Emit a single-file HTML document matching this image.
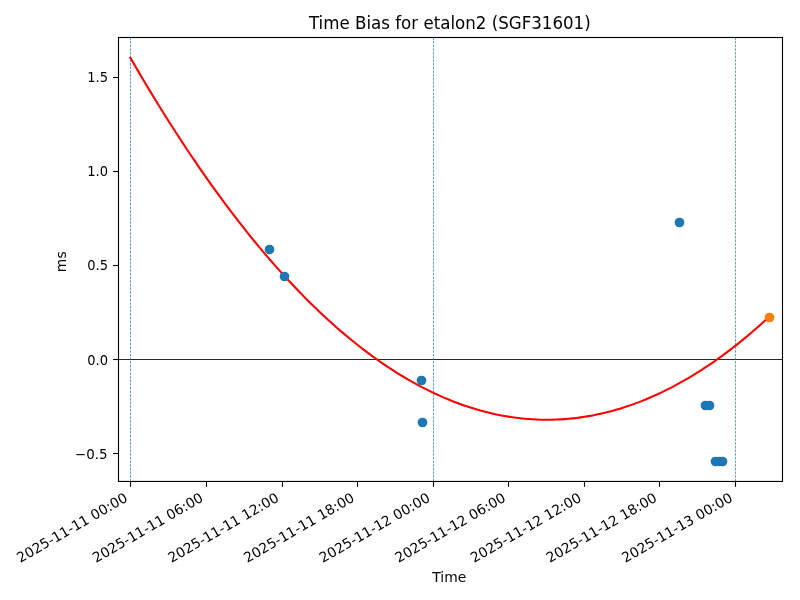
<!DOCTYPE html>
<html lang="en"><head><meta charset="utf-8"><title>Time Bias for etalon2 (SGF31601)</title>
<style>html,body{margin:0;padding:0;background:#fff;overflow:hidden}svg{display:block}text{font-family:'DejaVu Sans','Liberation Sans',sans-serif;fill:#000}</style></head><body>
<svg width="800" height="600" viewBox="0 0 800 600">
<rect x="0" y="0" width="800" height="600" fill="#ffffff"/>
<g stroke="#000" stroke-width="1.111">
<line x1="130.50" y1="481.45" x2="130.50" y2="486.80"/>
<line x1="206.50" y1="481.45" x2="206.50" y2="486.80"/>
<line x1="282.50" y1="481.45" x2="282.50" y2="486.80"/>
<line x1="357.50" y1="481.45" x2="357.50" y2="486.80"/>
<line x1="433.50" y1="481.45" x2="433.50" y2="486.80"/>
<line x1="508.50" y1="481.45" x2="508.50" y2="486.80"/>
<line x1="584.50" y1="481.45" x2="584.50" y2="486.80"/>
<line x1="659.50" y1="481.45" x2="659.50" y2="486.80"/>
<line x1="735.50" y1="481.45" x2="735.50" y2="486.80"/>
</g>
<g font-size="13.889">
<text transform="translate(20.37 563.04) rotate(-30)">2025-11-11 00:00</text>
<text transform="translate(95.99 563.04) rotate(-30)">2025-11-11 06:00</text>
<text transform="translate(171.62 563.04) rotate(-30)">2025-11-11 12:00</text>
<text transform="translate(247.24 563.04) rotate(-30)">2025-11-11 18:00</text>
<text transform="translate(322.87 563.04) rotate(-30)">2025-11-12 00:00</text>
<text transform="translate(398.49 563.04) rotate(-30)">2025-11-12 06:00</text>
<text transform="translate(474.12 563.04) rotate(-30)">2025-11-12 12:00</text>
<text transform="translate(549.74 563.04) rotate(-30)">2025-11-12 18:00</text>
<text transform="translate(625.37 563.04) rotate(-30)">2025-11-13 00:00</text>
</g>
<text x="449.25" y="582.35" font-size="13.889" text-anchor="middle">Time</text>
<g stroke="#000" stroke-width="1.111">
<line x1="113.10" y1="453.50" x2="118.50" y2="453.50"/>
<line x1="113.10" y1="359.50" x2="118.50" y2="359.50"/>
<line x1="113.10" y1="265.50" x2="118.50" y2="265.50"/>
<line x1="113.10" y1="171.50" x2="118.50" y2="171.50"/>
<line x1="113.10" y1="77.50" x2="118.50" y2="77.50"/>
</g>
<g font-size="13.889" text-anchor="end">
<text transform="translate(107.58 458.88) scale(0.965 1)">−0.5</text>
<text transform="translate(107.98 364.88) scale(0.940 1)">0.0</text>
<text transform="translate(107.98 269.88) scale(0.940 1)">0.5</text>
<text transform="translate(107.98 175.88) scale(0.940 1)">1.0</text>
<text transform="translate(107.98 81.88) scale(0.940 1)">1.5</text>
</g>
<text transform="translate(65.61 261.75) rotate(-90)" font-size="13.889" text-anchor="middle">ms</text>
<clipPath id="ax"><rect x="118.50" y="37.50" width="664.00" height="443.95"/></clipPath>
<g clip-path="url(#ax)">
<line x1="118.50" y1="359.50" x2="782.50" y2="359.50" stroke="#000" stroke-width="0.85"/>
<line x1="130.50" y1="481.45" x2="130.50" y2="37.50" stroke="#1f77b4" stroke-width="0.694" stroke-dasharray="2.569 1.111"/>
<line x1="433.50" y1="481.45" x2="433.50" y2="37.50" stroke="#1f77b4" stroke-width="0.694" stroke-dasharray="2.569 1.111"/>
<line x1="735.50" y1="481.45" x2="735.50" y2="37.50" stroke="#1f77b4" stroke-width="0.694" stroke-dasharray="2.569 1.111"/>
<path d="M130.40 57.78 L134.42 64.73 L138.44 71.62 L142.46 78.44 L146.48 85.19 L150.50 91.87 L154.52 98.49 L158.54 105.04 L162.56 111.52 L166.58 117.93 L170.60 124.28 L174.62 130.55 L178.64 136.77 L182.66 142.91 L186.68 148.99 L190.70 155.00 L194.72 160.94 L198.74 166.81 L202.76 172.62 L206.78 178.36 L210.80 184.03 L214.82 189.63 L218.84 195.17 L222.86 200.64 L226.88 206.04 L230.90 211.38 L234.92 216.65 L238.94 221.85 L242.96 226.98 L246.98 232.04 L251.00 237.04 L255.02 241.97 L259.04 246.83 L263.06 251.63 L267.08 256.36 L271.10 261.02 L275.12 265.61 L279.14 270.14 L283.16 274.59 L287.18 278.99 L291.21 283.31 L295.23 287.56 L299.25 291.75 L303.27 295.87 L307.29 299.93 L311.31 303.91 L315.33 307.83 L319.35 311.69 L323.37 315.47 L327.39 319.19 L331.41 322.83 L335.43 326.42 L339.45 329.93 L343.47 333.38 L347.49 336.76 L351.51 340.07 L355.53 343.31 L359.55 346.49 L363.57 349.60 L367.59 352.64 L371.61 355.62 L375.63 358.53 L379.65 361.37 L383.67 364.14 L387.69 366.84 L391.71 369.48 L395.73 372.05 L399.75 374.56 L403.77 376.99 L407.79 379.36 L411.81 381.66 L415.83 383.89 L419.85 386.06 L423.87 388.16 L427.89 390.19 L431.91 392.15 L435.93 394.05 L439.95 395.88 L443.97 397.64 L447.99 399.33 L452.01 400.96 L456.03 402.52 L460.05 404.01 L464.07 405.43 L468.09 406.79 L472.11 408.08 L476.13 409.30 L480.15 410.46 L484.17 411.54 L488.19 412.56 L492.21 413.51 L496.23 414.40 L500.25 415.22 L504.27 415.97 L508.29 416.65 L512.31 417.26 L516.33 417.81 L520.35 418.29 L524.37 418.70 L528.39 419.05 L532.41 419.33 L536.43 419.54 L540.45 419.68 L544.47 419.76 L548.49 419.76 L552.51 419.71 L556.53 419.58 L560.55 419.39 L564.57 419.12 L568.59 418.79 L572.61 418.40 L576.63 417.93 L580.65 417.40 L584.67 416.80 L588.69 416.14 L592.71 415.41 L596.73 414.60 L600.75 413.74 L604.77 412.80 L608.79 411.80 L612.82 410.73 L616.84 409.59 L620.86 408.38 L624.88 407.11 L628.90 405.77 L632.92 404.36 L636.94 402.89 L640.96 401.35 L644.98 399.74 L649.00 398.06 L653.02 396.31 L657.04 394.50 L661.06 392.62 L665.08 390.67 L669.10 388.66 L673.12 386.58 L677.14 384.43 L681.16 382.21 L685.18 379.93 L689.20 377.58 L693.22 375.16 L697.24 372.67 L701.26 370.12 L705.28 367.49 L709.30 364.81 L713.32 362.05 L717.34 359.23 L721.36 356.33 L725.38 353.38 L729.40 350.35 L733.42 347.26 L737.44 344.10 L741.46 340.87 L745.48 337.57 L749.50 334.21 L753.52 330.78 L757.54 327.28 L761.56 323.72 L765.58 320.08 L769.60 316.38" fill="none" stroke="#ff0000" stroke-width="2.083" stroke-linecap="square" stroke-linejoin="round"/>
<g fill="#1f77b4" stroke="#1f77b4" stroke-width="1.389">
<circle cx="269.50" cy="249.50" r="4.167"/>
<circle cx="284.50" cy="276.50" r="4.167"/>
<circle cx="421.50" cy="380.50" r="4.167"/>
<circle cx="422.50" cy="422.50" r="4.167"/>
<circle cx="679.50" cy="222.50" r="4.167"/>
<circle cx="705.50" cy="405.50" r="4.167"/>
<circle cx="709.50" cy="405.50" r="4.167"/>
<circle cx="715.50" cy="461.50" r="4.167"/>
<circle cx="719.50" cy="461.50" r="4.167"/>
<circle cx="722.50" cy="461.50" r="4.167"/>
</g>
<circle cx="769.50" cy="317.50" r="4.167" fill="#ff7f0e" stroke="#ff7f0e" stroke-width="1.389"/>
</g>
<rect x="118.50" y="37.50" width="664.00" height="443.95" fill="none" stroke="#000" stroke-width="1.111" stroke-linejoin="miter"/>
<text transform="translate(449.80 29.17) scale(1 1.07)" font-size="16.667" text-anchor="middle">Time Bias for etalon2 (SGF31601)</text>
</svg></body></html>
